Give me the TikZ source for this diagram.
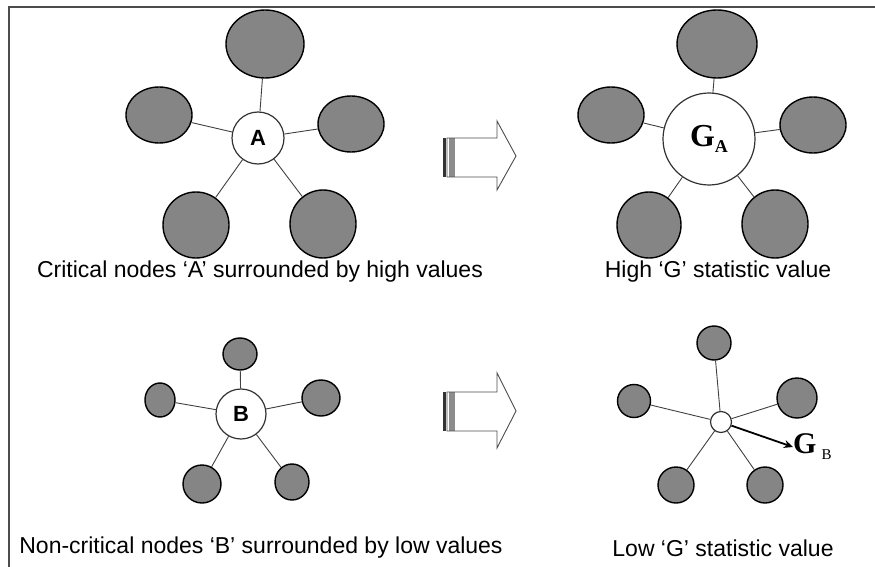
\documentclass[tikz,border=0pt]{standalone}
\usepackage{fontspec}
\setmainfont{Liberation Sans}
\newfontfamily\serifG{Liberation Serif}
\usetikzlibrary{shapes.geometric,arrows.meta}
\begin{document}
\begin{tikzpicture}[x=1pt,y=-1pt,
  leaf/.style={ellipse,draw=black,line width=1.4pt,fill=black!48,inner sep=0pt},
  hub/.style={circle,draw=black!80,line width=1.2pt,fill=white,inner sep=0pt},
  spoke/.style={draw=black!75,line width=0.9pt},
  caption/.style={font=\fontsize{23}{27}\selectfont,anchor=center,inner sep=0pt},
  hubtext/.style={font=\bfseries\fontsize{22}{22}\selectfont},
  blockarrow/.style={draw=black!70,line width=0.9pt},
  darkbar/.style={fill=black!80},
  greybar/.style={fill=black!45}]
\useasboundingbox (0,0) rectangle (875,567);
\draw[line width=1.2pt,black!70] (9,567) -- (9,7) -- (875,7);

% ---------- top-left cluster ----------
\node[hub,minimum size=52,hubtext] (A) at (258,138) {A};
\node[leaf,minimum width=78,minimum height=68] (a1) at (265,44) {};
\node[leaf,minimum width=66,minimum height=56] (a2) at (159,115) {};
\node[leaf,minimum width=66,minimum height=56] (a3) at (351,124) {};
\node[leaf,minimum width=66,minimum height=66] (a4) at (196,225) {};
\node[leaf,minimum width=66,minimum height=68] (a5) at (323,224) {};
\foreach \n in {a1,a2,a3,a4,a5} \draw[spoke] (A) -- (\n);

% ---------- top arrow ----------
\fill[darkbar] (443,138) rectangle (446,177);
\fill[greybar] (449,138) rectangle (455,177);
\draw[blockarrow] (447,138) -- (497,138) -- (497,121) -- (516,156) -- (497,190) -- (497,177) -- (447,177) -- cycle;

% ---------- top-right cluster ----------
\node[hub,minimum size=92] (GA) at (709,139)
  {{\serifG\bfseries\fontsize{32}{32}\selectfont G}\raisebox{-6pt}{\serifG\bfseries\fontsize{18}{18}\selectfont A}};
\node[leaf,minimum width=80,minimum height=68] (g1) at (717,44) {};
\node[leaf,minimum width=66,minimum height=56] (g2) at (611,115) {};
\node[leaf,minimum width=66,minimum height=56] (g3) at (813,125) {};
\node[leaf,minimum width=64,minimum height=66] (g4) at (649,225) {};
\node[leaf,minimum width=66,minimum height=68] (g5) at (775,224) {};
\foreach \n in {g1,g2,g3,g4,g5} \draw[spoke] (GA) -- (\n);

% ---------- captions ----------
\node[caption] (t1) at (260,272) {Critical nodes ‘A’ surrounded by high values};
\node[caption] (t2) at (718,272) {High ‘G’ statistic value};
\node[caption] (t3) at (261,548) {Non-critical nodes ‘B’ surrounded by low values};
\node[caption] (t4) at (723,548) {Low ‘G’ statistic value};

% ---------- bottom-left cluster ----------
\node[hub,minimum size=50,hubtext] (B) at (241,414) {B};
\node[leaf,minimum width=34,minimum height=32] (b1) at (240,354) {};
\node[leaf,minimum width=30,minimum height=34] (b2) at (160,400) {};
\node[leaf,minimum width=38,minimum height=36] (b3) at (321,398) {};
\node[leaf,minimum width=38,minimum height=38] (b4) at (202,484) {};
\node[leaf,minimum width=34,minimum height=36] (b5) at (292,482) {};
\foreach \n in {b1,b2,b3,b4,b5} \draw[spoke] (B) -- (\n);

% ---------- bottom arrow ----------
\fill[darkbar] (443,392) rectangle (446,431);
\fill[greybar] (449,392) rectangle (455,431);
\draw[blockarrow] (447,392) -- (497,392) -- (497,373) -- (516,411) -- (497,448) -- (497,431) -- (447,431) -- cycle;

% ---------- bottom-right cluster ----------
\node[hub,minimum size=21] (c) at (721,422) {};
\node[leaf,minimum width=34,minimum height=34] (c1) at (714,343) {};
\node[leaf,minimum width=33,minimum height=33] (c2) at (634,401) {};
\node[leaf,minimum width=40,minimum height=40] (c3) at (797,398) {};
\node[leaf,minimum width=36,minimum height=36] (c4) at (676,485) {};
\node[leaf,minimum width=36,minimum height=36] (c5) at (765,485) {};
\foreach \n in {c1,c2,c3,c4,c5} \draw[spoke] (c) -- (\n);
\node[anchor=west,inner sep=0pt] (GB) at (793,447)
  {{\serifG\bfseries\fontsize{30}{30}\selectfont G}\hspace{5pt}\raisebox{-6pt}{\serifG\fontsize{15}{15}\selectfont B}};
\draw[-{Stealth[length=9pt,width=8pt]},line width=1.8pt] (c) -- (GB.west);
\end{tikzpicture}
\end{document}
